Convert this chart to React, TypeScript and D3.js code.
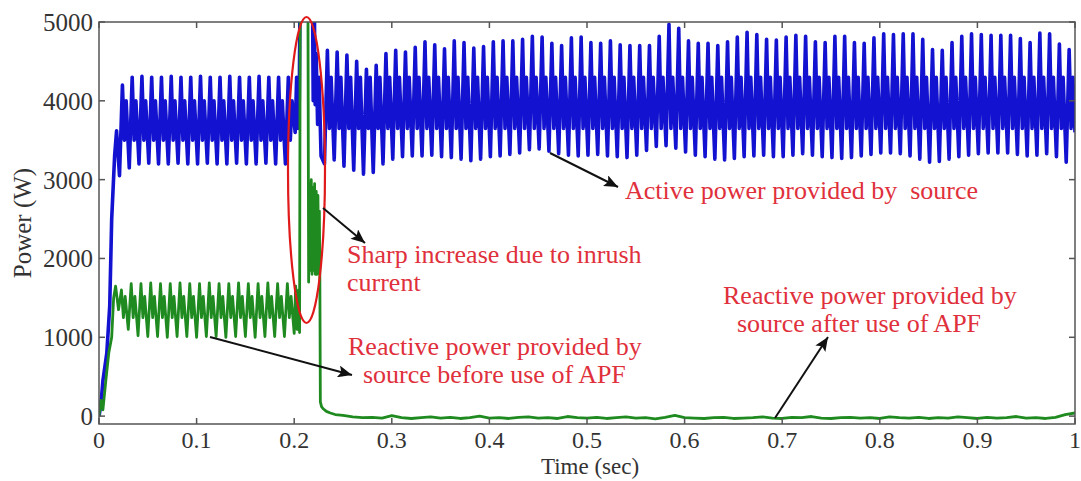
import React from "react";
import * as d3 from "d3";

// ---------- data ----------
const timeTicks = [0, 0.1, 0.2, 0.3, 0.4, 0.5, 0.6, 0.7, 0.8, 0.9, 1];
const timeTickLabels = ["0", "0.1", "0.2", "0.3", "0.4", "0.5", "0.6", "0.7", "0.8", "0.9", "1"];
const powerTicks = [0, 1000, 2000, 3000, 4000, 5000];
const powerTickLabels = ["0", "1000", "2000", "3000", "4000", "5000"];

const cyclePeriod = 0.01; // 100 Hz ripple of the instantaneous power
// position of trough / peak / inner dip / inner peak inside one ripple cycle
const cycleShape = [0, 0.3, 0.5, 0.68];

// Active power (blue)
const activeStartTime = [0, 0.002, 0.004, 0.008, 0.011, 0.013, 0.016, 0.018];
const activeStartValue = [0, 150, 450, 800, 1400, 2500, 3300, 3620];
const activePreStart = 0.021;
const activePreLow = [3050, 3150, 3200, 3210, 3200, 3200, 3210, 3200, 3200, 3210, 3200, 3200, 3210, 3200, 3200, 3210, 3200, 3200];
const activePreHigh = [4200, 4300, 4310, 4300, 4300, 4310, 4300, 4300, 4310, 4300, 4300, 4310, 4300, 4300, 4310, 4300, 4300, 4300];
const activePreInner = [3500, 4000];
const activeInrushTime = [0.201, 0.2025, 0.204, 0.2052, 0.2062, 0.2185, 0.2195, 0.2205, 0.2215, 0.2225, 0.224, 0.2255, 0.2275];
const activeInrushValue = [3600, 4300, 3650, 4000, 5800, 5800, 4000, 5400, 3950, 4600, 3700, 4300, 3300];
const activePostStart = 0.231;
const activePostHigh = [
  4640, 4620, 4580, 4500, 4400, 4450, 4600, 4640, 4620, 4680,
  4750, 4710, 4660, 4760, 4740, 4670, 4690, 4750, 4760, 4760,
  4780, 4820, 4810, 4730, 4700, 4800, 4810, 4740, 4730, 4760,
  4710, 4700, 4700, 4700, 4820, 4970, 4920, 4760, 4730, 4730,
  4700, 4750, 4810, 4870, 4840, 4780, 4770, 4810, 4830, 4820,
  4750, 4740, 4820, 4820, 4740, 4730, 4800, 4850, 4840, 4850,
  4850, 4780, 4650, 4640, 4740, 4820, 4850, 4840, 4830, 4830,
  4830, 4790, 4740, 4860, 4850, 4720, 4650,
];
const activePostLow = [
  3200, 3250, 3170, 3120, 3070, 3090, 3200, 3260, 3290, 3300,
  3300, 3310, 3290, 3280, 3260, 3240, 3260, 3290, 3300, 3320,
  3340, 3380, 3390, 3360, 3330, 3310, 3300, 3310, 3320, 3300,
  3290, 3280, 3310, 3370, 3420, 3430, 3400, 3350, 3310, 3290,
  3260, 3250, 3270, 3290, 3300, 3310, 3290, 3290, 3310, 3330,
  3310, 3290, 3280, 3270, 3280, 3300, 3320, 3340, 3340, 3330,
  3300, 3260, 3220, 3230, 3260, 3290, 3310, 3330, 3340, 3340,
  3340, 3320, 3300, 3310, 3330, 3290, 3220,
];
const activePostInner = [3650, 4300];
const activeEnd = [1.0, 3600];

// Reactive power (green)
const reactiveStartTime = [0, 0.002, 0.004, 0.007, 0.010, 0.013, 0.015, 0.017];
const reactiveStartValue = [0, 200, 80, 450, 800, 1000, 1500, 1650];
const reactivePreStart = 0.02;
const reactivePreLow = [1350, 1100, 1020, 1010, 1010, 1000, 1010, 1010, 1000, 1010, 1010, 1000, 1010, 1010, 1000, 1010, 1010, 1010];
const reactivePreHigh = [1600, 1680, 1680, 1690, 1680, 1680, 1690, 1680, 1680, 1690, 1680, 1680, 1690, 1680, 1680, 1690, 1680, 1680];
const reactivePreInner = [1250, 1520];
const reactiveInrushTime = [
  0.2, 0.2015, 0.203, 0.2045, 0.2055, 0.2062, 0.214, 0.2148, 0.2158, 0.2166,
  0.2175, 0.2183, 0.2192, 0.22, 0.2209, 0.2217, 0.2226, 0.2234, 0.2243, 0.2251,
  0.2258, 0.2263, 0.2268, 0.228, 0.23, 0.233, 0.237, 0.242, 0.25,
];
const reactiveInrushValue = [
  1050, 1650, 1100, 1600, 1060, 5600, 5600, 1700, 2950, 1850,
  3000, 1800, 2900, 1850, 2950, 1800, 2850, 1800, 2800, 1900,
  2600, 1700, 180, 120, 90, 60, 40, 20, 10,
];
const reactivePostStart = 0.26;
const reactivePostValue = [
  -10, -20, -15, -25, 5, -20, -30, -20, -10, -25,
  -15, -30, -20, 0, -25, -20, -30, -15, -10, -25,
  -20, -30, -5, -20, -25, -15, -30, -20, -10, -25,
  -20, -35, -15, 10, -20, -25, -30, -20, -15, -30,
  -25, -20, -10, -25, -30, -15, -20, -5, -25, -30,
  -20, -15, -25, -20, -30, -10, -20, -25, -15, -30,
  -20, -25, -10, -20, -30, -15, -25, -20, -5, -25,
  -20, -30, -15, 20, 40,
];

// ---------- helpers ----------
type Pt = [number, number];
const pairs = (ts: number[], vs: number[]): Pt[] => ts.map((t, i) => [t, vs[i]] as Pt);
const cycles = (start: number, lows: number[], highs: number[], inner: number[]): Pt[] => {
  const out: Pt[] = [];
  lows.forEach((lo, k) => {
    const t0 = start + k * cyclePeriod;
    out.push([t0 + cycleShape[0] * cyclePeriod, lo]);
    out.push([t0 + cycleShape[1] * cyclePeriod, highs[k]]);
    out.push([t0 + cycleShape[2] * cyclePeriod, inner[0]]);
    out.push([t0 + cycleShape[3] * cyclePeriod, inner[1]]);
  });
  return out;
};

const activeSeries: Pt[] = [
  ...pairs(activeStartTime, activeStartValue),
  ...cycles(activePreStart, activePreLow, activePreHigh, activePreInner),
  ...pairs(activeInrushTime, activeInrushValue),
  ...cycles(activePostStart, activePostLow, activePostHigh, activePostInner),
  activeEnd as Pt,
];
const reactiveSeries: Pt[] = [
  ...pairs(reactiveStartTime, reactiveStartValue),
  ...cycles(reactivePreStart, reactivePreLow, reactivePreHigh, reactivePreInner),
  ...pairs(reactiveInrushTime, reactiveInrushValue),
  ...reactivePostValue.map((v, i) => [reactivePostStart + i * cyclePeriod, v] as Pt),
];

const W = 1081;
const H = 481;
const L = 99, R = 1075, TOP = 22, BOT = 424;
const FONT = "'Liberation Serif', 'Times New Roman', serif";
const RED = "#e0303c";

export default function App() {
  const x = d3.scaleLinear().domain([0, 1]).range([L, R]);
  const y = d3.scaleLinear().domain([-100, 5000]).range([BOT, TOP]);
  const line = d3.line<Pt>().x((d) => x(d[0])).y((d) => y(d[1]));

  const arrows = [
    [550, 153, 618, 187],
    [323, 208, 365, 243],
    [210, 337, 352, 375],
    [775, 418, 828, 337],
  ];

  const ann = (tx: number, ty: number, s: string, key: string) => (
    <text key={key} x={tx} y={ty} fontFamily={FONT} fontSize={26} fill={RED} style={{ whiteSpace: "pre" }}>
      {s}
    </text>
  );

  return (
    <svg width={W} height={H} style={{ position: "absolute", left: 0, top: 0, background: "#fff" }}>
      <defs>
        <clipPath id="plot">
          <rect x={L} y={TOP} width={R - L} height={BOT - TOP} />
        </clipPath>
        <marker id="ah" markerUnits="userSpaceOnUse" markerWidth={16} markerHeight={12} refX={14} refY={6} orient="auto">
          <path d="M0,0 L14,6 L0,12 L3,6 z" fill="#111" />
        </marker>
      </defs>
      <rect x={0} y={0} width={W} height={H} fill="#fff" />

      <g clipPath="url(#plot)">
        <path d={line(activeSeries) || ""} fill="none" stroke="#1212d0" strokeWidth={3.6} strokeLinejoin="round" />
        <path d={line(reactiveSeries) || ""} fill="none" stroke="#1f8a1f" strokeWidth={2.8} strokeLinejoin="round" />
      </g>

      {/* frame */}
      <rect x={L} y={TOP} width={R - L} height={BOT - TOP} fill="none" stroke="#555" strokeWidth={1.5} />
      {timeTicks.map((t, i) => (
        <g key={"xt" + i}>
          <line x1={x(t)} x2={x(t)} y1={BOT} y2={BOT - 6} stroke="#555" strokeWidth={1.5} />
          <line x1={x(t)} x2={x(t)} y1={TOP} y2={TOP + 6} stroke="#555" strokeWidth={1.5} />
          <text x={x(t)} y={448} textAnchor="middle" fontFamily={FONT} fontSize={24} fill="#333">
            {timeTickLabels[i]}
          </text>
        </g>
      ))}
      {powerTicks.map((v, i) => (
        <g key={"yt" + i}>
          <line x1={L} x2={L + 6} y1={y(v)} y2={y(v)} stroke="#555" strokeWidth={1.5} />
          <line x1={R} x2={R - 6} y1={y(v)} y2={y(v)} stroke="#555" strokeWidth={1.5} />
          <text x={93} y={y(v) + 9} textAnchor="end" fontFamily={FONT} fontSize={25} fill="#333">
            {powerTickLabels[i]}
          </text>
        </g>
      ))}
      <text x={590} y={474} textAnchor="middle" fontFamily={FONT} fontSize={23} fill="#333">
        Time (sec)
      </text>
      <text transform="translate(31,223) rotate(-90)" textAnchor="middle" fontFamily={FONT} fontSize={25} fill="#333">
        Power (W)
      </text>

      {/* red ellipse marking inrush */}
      <ellipse cx={306.5} cy={170} rx={18.5} ry={153} fill="none" stroke="#e01a1a" strokeWidth={2.2} />

      {/* arrows */}
      {arrows.map((a, i) => (
        <line key={"ar" + i} x1={a[0]} y1={a[1]} x2={a[2]} y2={a[3]} stroke="#111" strokeWidth={2} markerEnd="url(#ah)" />
      ))}

      {/* annotations */}
      {ann(625, 199, "Active power provided by  source", "a1")}
      {ann(347, 263, "Sharp increase due to inrush", "a2")}
      {ann(347, 291, "current", "a3")}
      {ann(348, 355, "Reactive power provided by", "a4")}
      {ann(363, 383, "source before use of APF", "a5")}
      {ann(723, 304, "Reactive power provided by", "a6")}
      {ann(737, 332, "source after use of APF", "a7")}
    </svg>
  );
}
